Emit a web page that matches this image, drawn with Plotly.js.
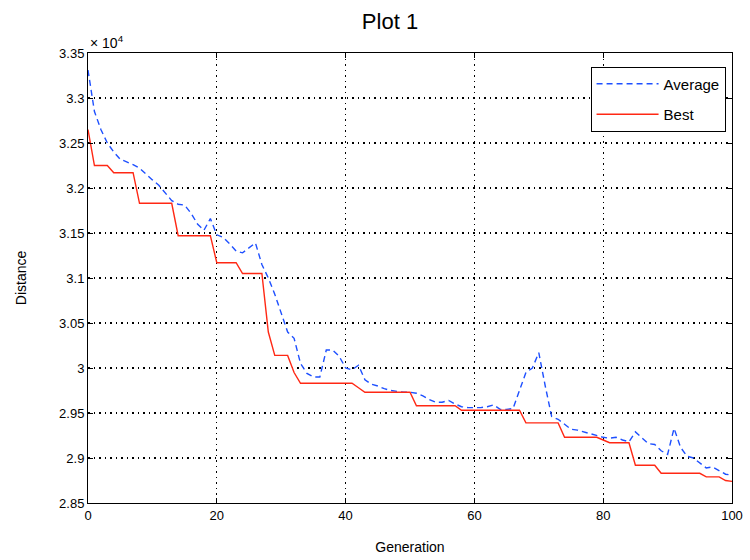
<!DOCTYPE html>
<html>
<head>
<meta charset="utf-8">
<script src="https://cdn.plot.ly/plotly-3.0.1.min.js"></script>
<style>html,body{margin:0;padding:0;background:#fff;}#chart{width:750px;height:560px;}</style>
</head>
<body>
<div id="chart"></div>
<script>
// Distance values in units of 10^4
const generation = Array.from({length: 101}, (_, i) => i);

const averageDistance = [
  3.331, 3.285, 3.265, 3.250, 3.240, 3.232, 3.229, 3.226, 3.222, 3.215,
  3.209, 3.203, 3.195, 3.186, 3.182, 3.181, 3.172, 3.160, 3.153, 3.166,
  3.148, 3.145, 3.138, 3.130, 3.128, 3.133, 3.139, 3.115, 3.100, 3.082,
  3.062, 3.040, 3.033, 3.005, 2.994, 2.990, 2.990, 3.020, 3.020, 3.013,
  3.000, 2.998, 3.003, 2.987, 2.982, 2.980, 2.977, 2.975, 2.974, 2.973,
  2.973, 2.972, 2.969, 2.965, 2.962, 2.962, 2.964, 2.960, 2.957, 2.956,
  2.956, 2.956, 2.957, 2.959, 2.954, 2.954, 2.955, 2.975, 2.995, 3.000,
  3.017, 2.980, 2.946, 2.943, 2.937, 2.932, 2.931, 2.929, 2.927, 2.925,
  2.923, 2.922, 2.923, 2.920, 2.918, 2.929, 2.922, 2.916, 2.915, 2.908,
  2.904, 2.933, 2.912, 2.902, 2.900, 2.894, 2.889, 2.890, 2.886, 2.882,
  2.881
];

const bestDistance = [
  3.265, 3.225, 3.225, 3.225, 3.217, 3.217, 3.217, 3.217, 3.183, 3.183,
  3.183, 3.183, 3.183, 3.183, 3.147, 3.147, 3.147, 3.147, 3.147, 3.147,
  3.117, 3.117, 3.117, 3.117, 3.105, 3.105, 3.105, 3.105, 3.040, 3.014,
  3.014, 3.014, 2.995, 2.983, 2.983, 2.983, 2.983, 2.983, 2.983, 2.983,
  2.983, 2.983, 2.978, 2.973, 2.973, 2.973, 2.973, 2.973, 2.973, 2.973,
  2.973, 2.958, 2.958, 2.958, 2.958, 2.958, 2.958, 2.958, 2.953, 2.953,
  2.953, 2.953, 2.953, 2.953, 2.953, 2.953, 2.953, 2.953, 2.939, 2.939,
  2.939, 2.939, 2.939, 2.939, 2.923, 2.923, 2.923, 2.923, 2.923, 2.923,
  2.920, 2.917, 2.917, 2.917, 2.917, 2.892, 2.892, 2.892, 2.892, 2.883,
  2.883, 2.883, 2.883, 2.883, 2.883, 2.883, 2.879, 2.879, 2.879, 2.875,
  2.874
];

const yTickVals = [2.85, 2.9, 2.95, 3, 3.05, 3.1, 3.15, 3.2, 3.25, 3.3, 3.35];
const yTickText = ['2.85', '2.9', '2.95', '3', '3.05', '3.1', '3.15', '3.2', '3.25', '3.3', '3.35'];
const xTickVals = [0, 20, 40, 60, 80, 100];

const font = 'Liberation Sans, Arial, Helvetica, sans-serif';

const traces = [
  {
    x: generation, y: averageDistance, type: 'scatter', mode: 'lines', name: 'Average',
    legendgroup: 'a',
    line: {color: 'rgb(30,80,255)', width: 1.4, dash: '6px,4px'}
  },
  {
    x: generation, y: bestDistance, type: 'scatter', mode: 'lines', name: 'Best',
    legendgroup: 'b',
    line: {color: 'rgb(255,40,20)', width: 1.4}
  }
];

const axisCommon = {
  showline: true, linecolor: '#000', linewidth: 1, mirror: 'allticks',
  ticks: 'inside', ticklen: 5, tickcolor: '#000', tickwidth: 1,
  showgrid: true, gridcolor: '#000', griddash: '1.5px,4px', gridwidth: 1.2,
  zeroline: false, tickfont: {family: font, size: 13, color: '#000'}
};

const layout = {
  width: 750, height: 560,
  margin: {l: 88, r: 18, t: 53, b: 57},
  paper_bgcolor: '#fff', plot_bgcolor: '#fff',
  title: {text: 'Plot 1', font: {family: font, size: 22, color: '#000'}, x: 0.52, xanchor: 'center', y: 0.962, yanchor: 'middle'},
  xaxis: Object.assign({}, axisCommon, {
    range: [0, 100], tickmode: 'array', tickvals: xTickVals,
    title: {text: 'Generation', font: {family: font, size: 14, color: '#000'}, standoff: 20}
  }),
  yaxis: Object.assign({}, axisCommon, {
    range: [2.85, 3.35], tickmode: 'array', tickvals: yTickVals, ticktext: yTickText,
    title: {text: 'Distance', font: {family: font, size: 14, color: '#000'}, standoff: 29}
  }),
  showlegend: true,
  legend: {
    x: 0.99, y: 0.97, xanchor: 'right', yanchor: 'top',
    bgcolor: '#fff', bordercolor: '#000', borderwidth: 1,
    font: {family: font, size: 15, color: '#000'},
    tracegroupgap: 8, itemwidth: 62
  },
  annotations: [{
    text: '× 10<sup>4</sup>', xref: 'paper', yref: 'paper', x: 0, y: 1,
    xanchor: 'left', yanchor: 'bottom', showarrow: false,
    font: {family: font, size: 14, color: '#000'}, yshift: 0
  }]
};

Plotly.newPlot('chart', traces, layout, {displayModeBar: false, staticPlot: true});
</script>
</body>
</html>
